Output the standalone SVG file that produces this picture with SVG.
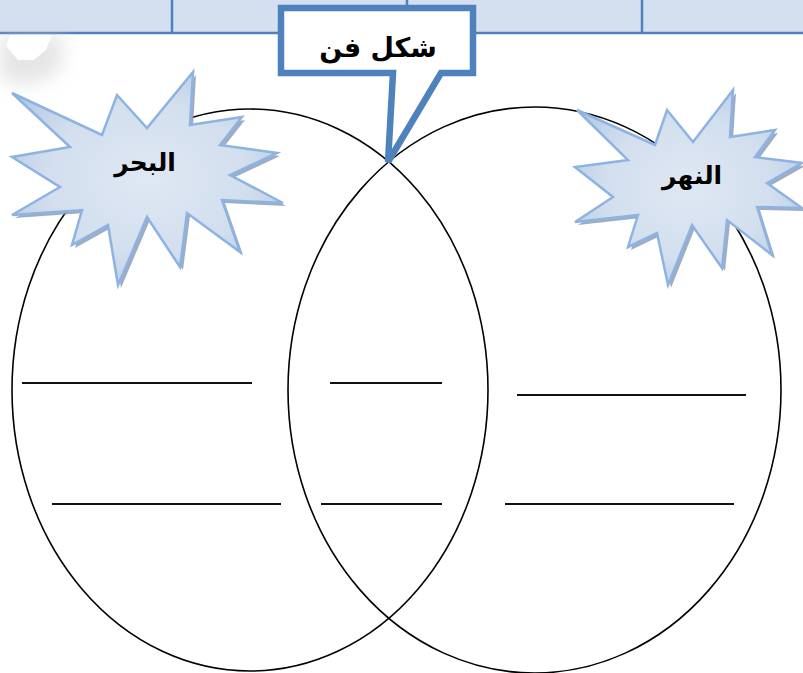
<svg xmlns="http://www.w3.org/2000/svg" width="803" height="673" viewBox="0 0 803 673">
<defs>
<style>
.ell{fill:none;stroke:#000;stroke-width:1.6}
.ln{stroke:#111;stroke-width:2}
.star{fill:url(#sg);stroke:#8db3e2;stroke-width:2.5;stroke-linejoin:miter}
.shadow{fill:#8e9fb8;opacity:0.85}
.lbl{font-family:"DejaVu Sans","Noto Sans",sans-serif;font-weight:bold;fill:#000;text-anchor:middle}
.div{stroke:#4f81bd;stroke-width:2.5}
</style>
<radialGradient id="sg" cx="0.5" cy="0.5" r="0.6">
<stop offset="0" stop-color="#dfe8f4"/>
<stop offset="0.6" stop-color="#d3dfee"/>
<stop offset="1" stop-color="#b4c9e4"/>
</radialGradient>
<filter id="blur" x="-50%" y="-50%" width="200%" height="200%"><feGaussianBlur stdDeviation="9"/></filter>
</defs>
<rect width="803" height="673" fill="#fff"/>
<g id="topbar">
<rect x="0" y="0" width="803" height="33" fill="#d4e0ef"/>
<line x1="0" y1="33" x2="803" y2="33" class="div"/>
<line x1="172" y1="0" x2="172" y2="33" class="div"/>
<line x1="407" y1="0" x2="407" y2="33" class="div"/>
<line x1="642" y1="0" x2="642" y2="33" class="div"/>
</g>
<g id="faint-shadow">
<path d="M0,36 L65,36 L60,72 L30,85 L0,80 Z" fill="#d0d0d0" filter="url(#blur)" opacity="0.55"/>
<path d="M10,35 L52,35 L46,50 L34,60 L18,60 L6,46 Z" fill="#fff"/>
</g>
<g id="ellipses">
<ellipse id="left-circle" class="ell" cx="250" cy="390" rx="238" ry="281"/>
<ellipse id="right-circle" class="ell" cx="534.5" cy="390" rx="246.5" ry="283"/>
</g>
<g id="lines">
<line class="ln" x1="22" y1="383" x2="252" y2="383"/>
<line class="ln" x1="330" y1="383" x2="442" y2="383"/>
<line class="ln" x1="517" y1="395" x2="746" y2="395"/>
<line class="ln" x1="52" y1="504" x2="281" y2="504"/>
<line class="ln" x1="321" y1="504" x2="442" y2="504"/>
<line class="ln" x1="505" y1="504" x2="734" y2="504"/>
</g>
<g id="star-sea">
<polygon class="shadow" transform="translate(3,3)" points="12,93 102,135 117,95 147,128 193,72 190,125 242,117 220,145 277,153 230,175 283,203 222,200 240,252 187,213 180,267 147,217 118,285 108,225 72,245 82,210 12,215 60,187 12,157 70,147"/>
<polygon class="star" points="12,93 102,135 117,95 147,128 193,72 190,125 242,117 220,145 277,153 230,175 283,203 222,200 240,252 187,213 180,267 147,217 118,285 108,225 72,245 82,210 12,215 60,187 12,157 70,147"/>
<text class="lbl" x="145" y="171" font-size="25">البحر</text>
</g>
<g id="star-river">
<polygon class="shadow" transform="translate(3,3)" points="577,110 655,145 667,110 693,142 733,90 730,137 775,130 755,157 802,163 767,183 802,208 757,207 772,255 727,220 722,268 692,225 668,285 657,233 628,247 638,215 575,222 613,197 575,167 628,160"/>
<polygon class="star" points="577,110 655,145 667,110 693,142 733,90 730,137 775,130 755,157 802,163 767,183 802,208 757,207 772,255 727,220 722,268 692,225 668,285 657,233 628,247 638,215 575,222 613,197 575,167 628,160"/>
<text class="lbl" x="692" y="184" font-size="25">النهر</text>
</g>
<g id="callout">
<path d="M281,8 H473 V73 H441 L388,162 L393,73 H281 Z" fill="#fff" stroke="#4f81bd" stroke-width="6.5" stroke-linejoin="miter"/>
<text class="lbl" x="378" y="57" font-size="27">شكل فن</text>
</g>
</svg>
